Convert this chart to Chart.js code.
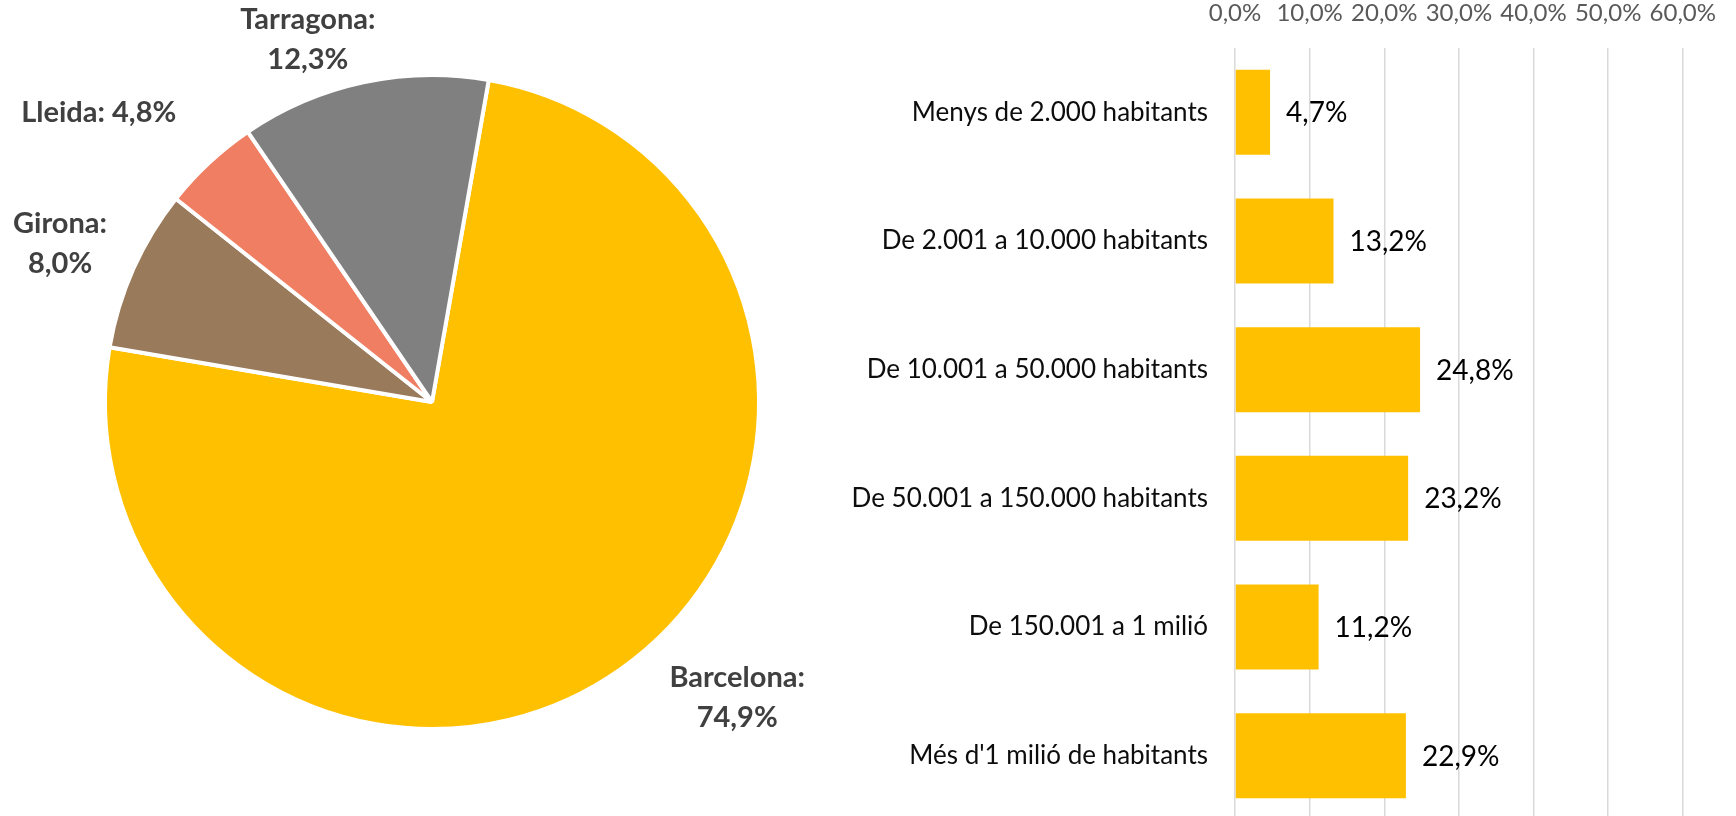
<!DOCTYPE html>
<html lang="ca">
<head>
<meta charset="utf-8">
<title>Distribució per província i per mida del municipi</title>
<script src="https://cdn.jsdelivr.net/npm/chart.js@4/dist/chart.umd.min.js"></script>
<style>
  html, body { margin: 0; padding: 0; background: #ffffff; overflow: hidden; width: 1736px; height: 816px; }
  #pieBox { position: absolute; left: 0; top: 0; width: 870px; height: 816px; }
  #barBox { position: absolute; left: 780px; top: 0; width: 956px; height: 820px; }
  canvas { display: block; }
</style>
</head>
<body>
<div id="pieBox"><canvas id="pie" width="870" height="816"></canvas></div>
<div id="barBox"><canvas id="bar" width="956" height="820"></canvas></div>
<script>
// Share of the total by province (%)
const provinces = ['Barcelona', 'Girona', 'Lleida', 'Tarragona'];
const provinceShares = [74.9, 8.0, 4.8, 12.3];
const provinceColors = ['#FFC000', '#997A5B', '#F07E63', '#808080'];

// Share of the total by municipality size (%)
const sizeGroups = [
  'Menys de 2.000 habitants',
  'De 2.001 a 10.000 habitants',
  'De 10.001 a 50.000 habitants',
  'De 50.001 a 150.000 habitants',
  'De 150.001 a 1 milió',
  "Més d'1 milió de habitants"
];
const sizeShares = [4.7, 13.2, 24.8, 23.2, 11.2, 22.9];
const shareTicks = [0, 10, 20, 30, 40, 50, 60];

const FONT = 'Lato, "Open Sans", "DejaVu Sans", sans-serif';
const pct = v => Number(v).toFixed(1).replace('.', ',') + '%';

// Draws "Name: value" labels outside each pie slice, anchored on the slice's mid angle
const sliceLabels = {
  id: 'sliceLabels',
  afterDatasetsDraw(chart, args, opts) {
    const ctx = chart.ctx;
    const meta = chart.getDatasetMeta(0);
    meta.data.forEach((arc, i) => {
      const p = arc.getProps(['x', 'y', 'startAngle', 'endAngle', 'outerRadius'], true);
      const place = opts.placement[i];
      const a = (p.startAngle + p.endAngle) / 2 + place.turn * Math.PI / 180;
      const cx = p.x + Math.cos(a) * p.outerRadius * place.reach;
      const cy = p.y + Math.sin(a) * p.outerRadius * place.reach;
      const name = chart.data.labels[i];
      const value = pct(chart.data.datasets[0].data[i]);
      const lines = place.oneLine ? [name + ': ' + value] : [name + ':', value];
      ctx.save();
      ctx.font = opts.font;
      ctx.fillStyle = opts.color;
      ctx.textAlign = 'center';
      ctx.textBaseline = 'middle';
      lines.forEach((t, k) => ctx.fillText(t, cx, cy + (k - (lines.length - 1) / 2) * opts.lineHeight));
      ctx.restore();
    });
  }
};

// Writes each bar's value just past its end
const barValues = {
  id: 'barValues',
  afterDatasetsDraw(chart, args, opts) {
    const ctx = chart.ctx;
    const meta = chart.getDatasetMeta(0);
    meta.data.forEach((bar, i) => {
      ctx.save();
      ctx.font = opts.font;
      ctx.fillStyle = opts.color;
      ctx.textAlign = 'left';
      ctx.textBaseline = 'middle';
      ctx.fillText(pct(chart.data.datasets[0].data[i]), bar.x + opts.gap, bar.y + 1);
      ctx.restore();
    });
  }
};

new Chart(document.getElementById('pie'), {
  type: 'pie',
  data: {
    labels: provinces,
    datasets: [{
      data: provinceShares,
      backgroundColor: provinceColors,
      borderColor: '#ffffff',
      borderWidth: 4,
      hoverOffset: 0,
      offset: 0
    }]
  },
  options: {
    responsive: false,
    animation: false,
    devicePixelRatio: 1,
    rotation: 10,
    layout: { padding: { left: 103, top: 73, right: 109, bottom: 85 } },
    plugins: {
      legend: { display: false },
      tooltip: { enabled: false },
      sliceLabels: {
        font: 'bold 29px ' + FONT,
        color: '#404040',
        lineHeight: 40,
        placement: [
          { turn: -10.7, reach: 1.30 },
          { turn: -1.0, reach: 1.236 },
          { turn: -6.1, reach: 1.35, oneLine: true },
          { turn: -6.8, reach: 1.17 }
        ]
      }
    }
  },
  plugins: [sliceLabels]
});

new Chart(document.getElementById('bar'), {
  type: 'bar',
  data: {
    labels: sizeGroups,
    datasets: [{
      data: sizeShares,
      backgroundColor: '#FFC000',
      categoryPercentage: 1,
      barPercentage: 0.66
    }]
  },
  options: {
    indexAxis: 'y',
    responsive: false,
    animation: false,
    devicePixelRatio: 1,
    layout: { autoPadding: false, padding: { left: 0, right: 51, top: 0, bottom: 0 } },
    plugins: {
      legend: { display: false },
      tooltip: { enabled: false },
      barValues: { font: '28px ' + FONT, color: '#000000', gap: 16 }
    },
    scales: {
      x: {
        position: 'top',
        min: 0,
        max: 60,
        afterBuildTicks: s => { s.ticks = shareTicks.map(v => ({ value: v })); },
        afterFit: s => { s.height = 48; },
        ticks: {
          callback: v => pct(v),
          font: { family: FONT, size: 24 },
          color: '#595959',
          padding: 20,
          maxRotation: 0,
          autoSkip: false
        },
        grid: { color: '#d9d9d9', lineWidth: 1.5, drawTicks: false },
        border: { display: false }
      },
      y: {
        // fixed label column; category bands run the full height below the top axis
        afterFit: s => { s.width = 455; s.paddingTop = 0; s.paddingBottom = 0; },
        ticks: {
          font: { family: FONT, size: 26 },
          color: '#0d0d0d',
          padding: 27,
          autoSkip: false
        },
        grid: { display: false, drawTicks: false },
        border: { display: false }
      }
    }
  },
  plugins: [barValues]
});
</script>
</body>
</html>
